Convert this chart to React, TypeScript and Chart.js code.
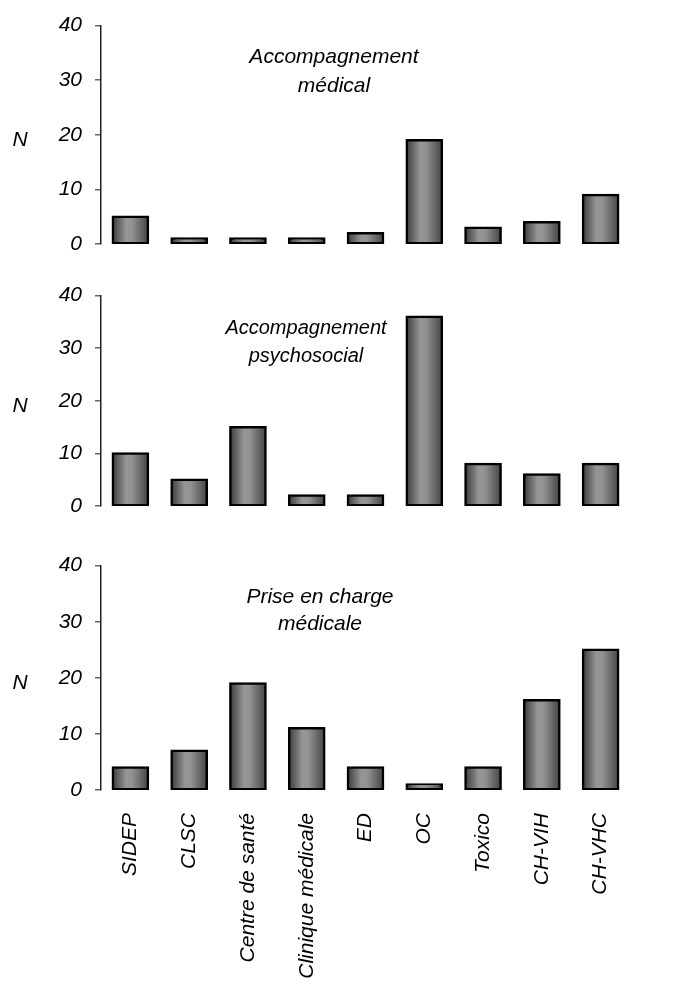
import React, { useEffect, useRef } from "react";
import { Chart, registerables } from "chart.js";

Chart.register(...registerables);

const categories = [
  "SIDEP",
  "CLSC",
  "Centre de santé",
  "Clinique médicale",
  "ED",
  "OC",
  "Toxico",
  "CH-VIH",
  "CH-VHC",
];
const accompagnementMedical = [5, 1, 1, 1, 2, 19, 3, 4, 9];
const accompagnementPsychosocial = [10, 5, 15, 2, 2, 36, 8, 6, 8];
const priseEnChargeMedicale = [4, 7, 19, 11, 4, 1, 4, 16, 25];
const yMin = 0;
const yMax = 40;
const yStep = 10;
const titleMedical = ["Accompagnement", "médical"];
const titlePsycho = ["Accompagnement", "psychosocial"];
const titlePrise = ["Prise en charge", "médicale"];
const axisTitle = "N";

const FONT = "'Liberation Sans', Arial, Helvetica, sans-serif";
const BAR_PCT = 0.6;

function barFill(ctx: any) {
  const chart = ctx.chart;
  const area = chart.chartArea;
  const xs = chart.scales && chart.scales.x;
  if (!area || !xs || ctx.dataIndex === undefined) return "#888888";
  const cx = xs.getPixelForValue(ctx.dataIndex);
  const hw = ((area.right - area.left) / categories.length) * BAR_PCT / 2;
  const g = chart.ctx.createLinearGradient(cx - hw, 0, cx + hw, 0);
  g.addColorStop(0, "#3e3e3e");
  g.addColorStop(0.38, "#969696");
  g.addColorStop(0.55, "#929292");
  g.addColorStop(1, "#464646");
  return g;
}

type PanelProps = {
  values: number[];
  title: string[];
  top: number;
  height: number;
  padTop: number;
  areaHeight: number;
  showX: boolean;
  titleX: number;
  titleY: number;
  titleGap: number;
  titleSize: number;
};

function Panel(p: PanelProps) {
  const ref = useRef<HTMLCanvasElement | null>(null);

  useEffect(() => {
    const canvas = ref.current;
    if (!canvas) return;

    const overlay = {
      id: "overlay",
      afterDraw(chart: any) {
        const c = chart.ctx;
        const a = chart.chartArea;
        c.save();
        c.fillStyle = "#000";
        c.textAlign = "center";
        c.textBaseline = "middle";
        c.font = `italic 21px ${FONT}`;
        c.fillText(axisTitle, 20, (a.top + a.bottom) / 2 + 5);
        c.font = `italic ${p.titleSize}px ${FONT}`;
        p.title.forEach((line, i) => {
          c.fillText(line, p.titleX, p.titleY + i * p.titleGap);
        });
        c.restore();
      },
    };

    const xBottomSpace = p.height - p.padTop - p.areaHeight;

    const chart = new Chart(canvas, {
      type: "bar",
      data: {
        labels: categories,
        datasets: [
          {
            data: p.values,
            backgroundColor: barFill as any,
            borderColor: "#000000",
            borderWidth: 2.5,
            inflateAmount: 1.2,
            borderSkipped: false,
            categoryPercentage: 1,
            barPercentage: BAR_PCT,
          } as any,
        ],
      },
      options: {
        responsive: false,
        animation: false,
        layout: {
          padding: {
            top: p.padTop,
            bottom: p.showX ? 0 : xBottomSpace,
            left: 0,
            right: 69,
          },
        },
        plugins: {
          legend: { display: false },
          tooltip: { enabled: false },
        },
        scales: {
          x: {
            display: p.showX,
            grid: { display: false },
            border: { display: false },
            ticks: {
              autoSkip: false,
              maxRotation: 90,
              minRotation: 90,
              padding: 15,
              color: "#000",
              font: { family: FONT, size: 21, style: "italic" },
            },
            afterFit(scale: any) {
              scale.height = xBottomSpace;
            },
          },
          y: {
            min: yMin,
            max: yMax,
            ticks: {
              stepSize: yStep,
              padding: 13,
              color: "#000",
              font: { family: FONT, size: 21, style: "italic" },
            },
            grid: {
              drawOnChartArea: false,
              drawTicks: true,
              tickLength: 6,
              color: "#666666",
              lineWidth: 1.5,
            },
            border: { display: true, color: "#222222", width: 1.5 },
            afterFit(scale: any) {
              scale.width = 101;
            },
          },
        },
      },
      plugins: [overlay],
    });

    return () => chart.destroy();
  }, []);

  return (
    <canvas
      ref={ref}
      width={699}
      height={p.height}
      style={{
        position: "absolute",
        left: 0,
        top: p.top,
        width: 699,
        height: p.height,
        display: "block",
      }}
    />
  );
}

export default function App() {
  return (
    <div
      style={{
        position: "absolute",
        left: 0,
        top: 0,
        width: 699,
        height: 986,
        background: "#ffffff",
        overflow: "hidden",
      }}
    >
      <Panel
        values={accompagnementMedical}
        title={titleMedical}
        top={0}
        height={270}
        padTop={23}
        areaHeight={234}
        showX={false}
        titleX={334}
        titleY={57}
        titleGap={29}
        titleSize={21}
      />
      <Panel
        values={accompagnementPsychosocial}
        title={titlePsycho}
        top={270}
        height={270}
        padTop={21}
        areaHeight={232}
        showX={false}
        titleX={306}
        titleY={58}
        titleGap={28}
        titleSize={20}
      />
      <Panel
        values={priseEnChargeMedicale}
        title={titlePrise}
        top={540}
        height={446}
        padTop={21}
        areaHeight={229}
        showX={true}
        titleX={320}
        titleY={57}
        titleGap={27}
        titleSize={21}
      />
    </div>
  );
}
